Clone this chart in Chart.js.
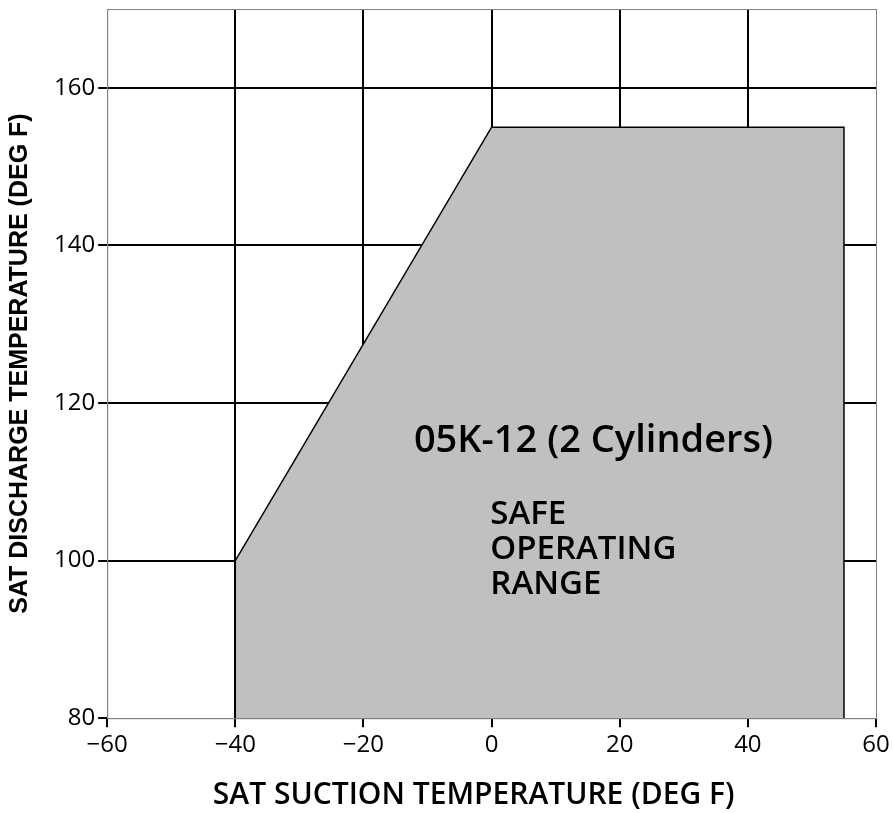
<!DOCTYPE html>
<html>
<head>
<meta charset="utf-8">
<script src="https://cdn.jsdelivr.net/npm/chart.js@4"></script>
<style>
  html, body { margin: 0; padding: 0; background: #fff; }
  #wrap { width: 894px; height: 813px; }
</style>
</head>
<body>
<div id="wrap"><canvas id="rangeChart" width="894" height="813"></canvas></div>
<script>
// safe operating envelope, 05K-12 compressor
const suctionTemps = [-40, -40, 0, 55, 55];
const dischargeTemps = [80, 100, 155, 155, 80];
const xTicks = [-60, -40, -20, 0, 20, 40, 60];
const xTickLabels = ['\u221260', '\u221240', '\u221220', '0', '20', '40', '60'];
const yTicks = [80, 100, 120, 140, 160];
const yTickLabels = ['80', '100', '120', '140', '160'];
const xTitle = 'SAT SUCTION TEMPERATURE (DEG F)';
const annoTitle = '05K-12 (2 Cylinders)';
const annoLines = ['SAFE', 'OPERATING', 'RANGE'];

const FONT = "'Open Sans', sans-serif";

const frame = {
    id: 'frame',
    afterDraw(chart) {
        const { ctx, chartArea: a } = chart;
        ctx.save();
        ctx.strokeStyle = '#808080';
        ctx.lineWidth = 1;
        ctx.strokeRect(a.left + 0.5, a.top + 0.5, a.right - a.left, a.bottom - a.top);
        ctx.restore();
    }
};

const labels = {
    id: 'labels',
    afterDatasetsDraw(chart) {
        const { ctx, scales: { x, y } } = chart;
        ctx.save();
        ctx.fillStyle = '#000';
        ctx.textBaseline = 'middle';
        ctx.textAlign = 'center';
        ctx.font = '600 38px ' + FONT;
        ctx.fillText(annoTitle, x.getPixelForValue(15.9), y.getPixelForValue(115.2));
        ctx.textAlign = 'left';
        ctx.font = '600 33px ' + FONT;
        annoLines.forEach((t, i) => {
            ctx.fillText(t, x.getPixelForValue(-0.2), y.getPixelForValue(105.9 - i * 4.5));
        });
        // x axis title sits a little left of the plot centre in the original
        ctx.textAlign = 'center';
        ctx.font = '600 30px ' + FONT;
        ctx.fillText(xTitle, x.getPixelForValue(-2.8), 795);
        ctx.restore();
    }
};

new Chart(document.getElementById('rangeChart'), {
    type: 'line',
    data: {
        datasets: [{
            data: suctionTemps.map((x, i) => ({ x, y: dischargeTemps[i] })),
            borderColor: '#000',
            borderWidth: 1.5,
            backgroundColor: '#c0c0c0',
            fill: 'start',
            pointRadius: 0,
            tension: 0
        }]
    },
    options: {
        responsive: false,
        animation: false,
        layout: { padding: { top: 9, right: 18, left: 0, bottom: 49 } },
        plugins: { legend: { display: false }, tooltip: { enabled: false } },
        scales: {
            x: {
                type: 'linear',
                min: -60,
                max: 60,
                afterBuildTicks: s => { s.ticks = xTicks.map(v => ({ value: v })); },
                ticks: {
                    color: '#000',
                    font: { family: FONT, size: 24 },
                    padding: 4,
                    maxRotation: 0,
                    callback: v => xTickLabels[xTicks.indexOf(v)]
                },
                grid: {
                    color: c => (c.tick.value === -60 || c.tick.value === 60) ? 'rgba(0,0,0,0)' : '#000',
                    lineWidth: 2,
                    tickColor: '#000',
                    tickLength: 9,
                    tickWidth: 2
                },
                border: { color: '#808080', width: 1 }
            },
            y: {
                type: 'linear',
                min: 80,
                max: 170,
                afterBuildTicks: s => { s.ticks = yTicks.map(v => ({ value: v })); },
                afterFit: s => { s.paddingTop = 0; },
                ticks: {
                    color: '#000',
                    font: { family: FONT, size: 24 },
                    padding: 3,
                    callback: v => yTickLabels[yTicks.indexOf(v)]
                },
                grid: {
                    color: c => c.tick.value === 80 ? 'rgba(0,0,0,0)' : '#000',
                    lineWidth: 2,
                    tickColor: '#000',
                    tickLength: 9,
                    tickWidth: 2
                },
                border: { color: '#808080', width: 1 },
                title: {
                    display: true,
                    text: 'SAT DISCHARGE TEMPERATURE (DEG F)',
                    color: '#000',
                    font: { family: "'Liberation Sans', Arial, sans-serif", size: 25, weight: 'bold' },
                    padding: { top: 5, bottom: 16 }
                }
            }
        }
    },
    plugins: [frame, labels]
});
</script>
</body>
</html>
